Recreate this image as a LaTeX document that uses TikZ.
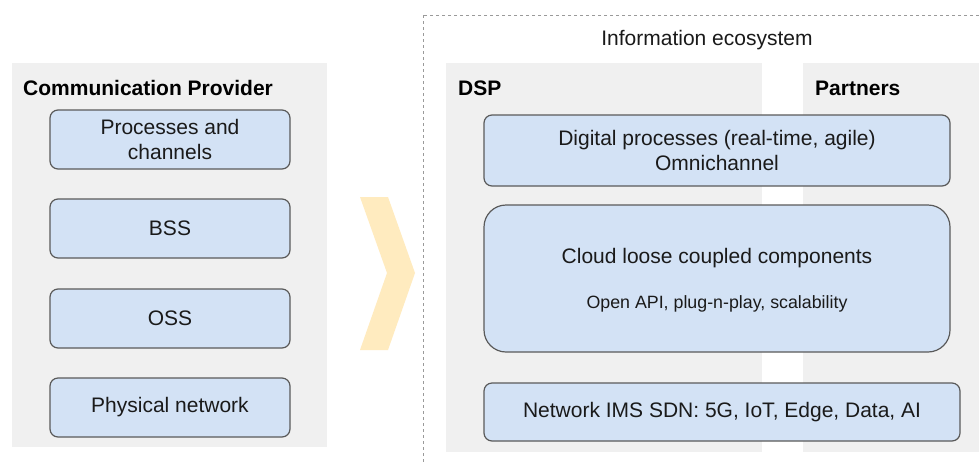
\documentclass[tikz,border=0pt]{standalone}
\usepackage{fontspec}
\setmainfont{Liberation Sans}
\definecolor{boxfill}{HTML}{D3E2F5}
\definecolor{boxline}{HTML}{5A5A5A}
\definecolor{panelfill}{HTML}{F0F0F0}
\definecolor{dashcol}{HTML}{9A9A9A}
\definecolor{chev}{HTML}{FFEBBF}
\definecolor{txt}{HTML}{1A1A1A}
\begin{document}
\begin{tikzpicture}[x=1pt,y=-1pt,
  panel/.style={fill=panelfill,draw=none,inner sep=0pt},
  bluebox/.style={fill=boxfill,draw=boxline,line width=1.2pt,rounded corners=8pt,inner sep=0pt,align=center,text=txt,font=\fontsize{21}{25}\selectfont},
  title/.style={font=\fontsize{21}{25}\selectfont\bfseries,text=black,inner sep=0pt,anchor=west},
  plain/.style={font=\fontsize{21}{25}\selectfont,text=txt,inner sep=0pt}
]
\useasboundingbox (0,0) rectangle (979,464);
\clip (0,0) rectangle (979,464);
\fill[white] (0,0) rectangle (979,464);
% dashed ecosystem frame
\draw[dashcol,line width=1pt,dash pattern=on 3pt off 3pt] (423,15) rectangle (995,480);
\node[plain] (eco) at (707,40) {Information ecosystem};
% panels
\node[panel,minimum width=315pt,minimum height=384pt] (cp) at (169.5,255) {};
\node[panel,minimum width=316pt,minimum height=389pt] (dsp) at (604,257.5) {};
\node[panel,minimum width=176pt,minimum height=389pt] (par) at (891,257.5) {};
\node[title] (cpt) at (23,88) {Communication Provider};
\node[title] (dspt) at (458,88) {DSP};
\node[title] (part) at (815,88) {Partners};
% left boxes
\node[bluebox,minimum width=240pt,minimum height=59pt] (proc) at (170,139.5) {Processes and\\channels};
\node[bluebox,minimum width=240pt,minimum height=59pt] (bss) at (170,228.5) {BSS};
\node[bluebox,minimum width=240pt,minimum height=59pt] (oss) at (170,318.5) {OSS};
\node[bluebox,minimum width=240pt,minimum height=59pt] (phys) at (170,407.5) {Physical network};
% chevron
\fill[chev] (360,197) -- (388,197) -- (415,273) -- (388,350) -- (360,350) -- (387,273) -- cycle;
% right boxes
\node[bluebox,minimum width=466pt,minimum height=71pt] (dig) at (717,150.5) {Digital processes (real-time, agile)\\Omnichannel};
\node[bluebox,rounded corners=22pt,minimum width=466pt,minimum height=147pt] (cloud) at (717,278.5) {};
\node[plain] (cloudt) at (717,258) {Cloud loose coupled components};
\node[plain,font=\fontsize{17.8}{21}\selectfont] (clouds) at (717,304) {Open API, plug-n-play, scalability};
\node[bluebox,minimum width=476pt,minimum height=58pt] (net) at (722,412) {Network IMS SDN: 5G, IoT, Edge, Data, AI};
\end{tikzpicture}
\end{document}
